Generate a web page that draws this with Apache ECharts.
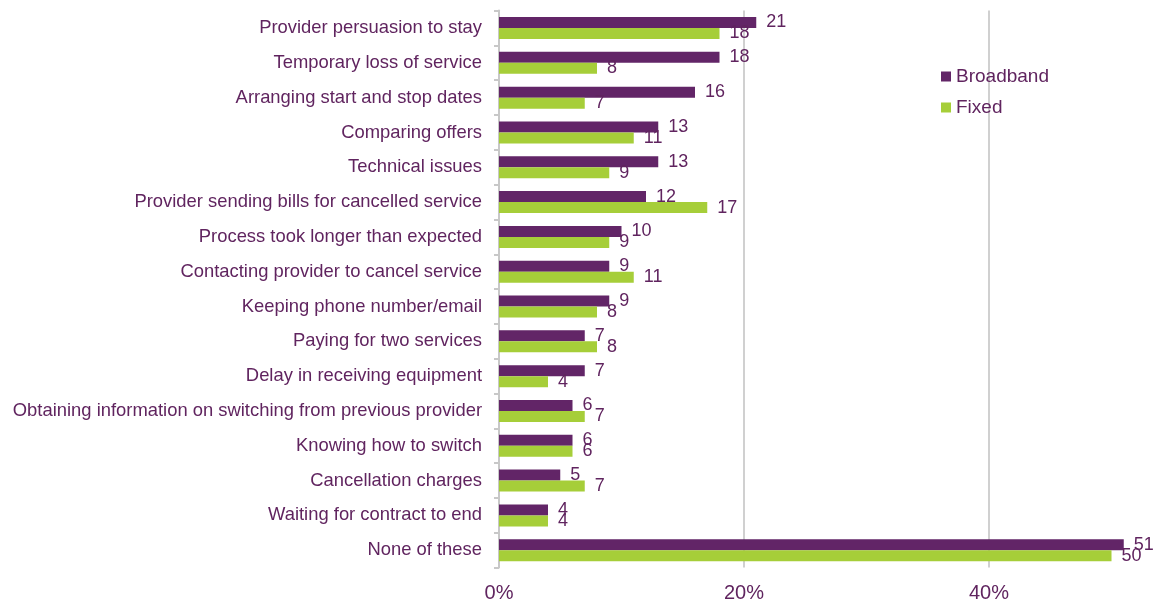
<!DOCTYPE html>
<html>
<head>
<meta charset="utf-8">
<script src="https://cdn.jsdelivr.net/npm/echarts@6/dist/echarts.min.js"></script>
<style>html,body{margin:0;padding:0;background:#fff;}#c{width:1158px;height:605px;}</style>
</head>
<body>
<div id="c"></div>
<script>
const categories = [
  "Provider persuasion to stay",
  "Temporary loss of service",
  "Arranging start and stop dates",
  "Comparing offers",
  "Technical issues",
  "Provider sending bills for cancelled service",
  "Process took longer than expected",
  "Contacting provider to cancel service",
  "Keeping phone number/email",
  "Paying for two services",
  "Delay in receiving equipment",
  "Obtaining information on switching from previous provider",
  "Knowing how to switch",
  "Cancellation charges",
  "Waiting for contract to end",
  "None of these"
];
const broadband = [21, 18, 16, 13, 13, 12, 10, 9, 9, 7, 7, 6, 6, 5, 4, 51];
const fixed = [18, 8, 7, 11, 9, 17, 9, 11, 8, 8, 4, 7, 6, 7, 4, 50];
const seriesNames = ["Broadband", "Fixed"];

const purple = '#622567';
const green = '#A6CE39';
const textColor = '#60245F';
const font = 'Liberation Sans, Arial, sans-serif';

const chart = echarts.init(document.getElementById('c'));
chart.setOption({
  animation: false,
  backgroundColor: '#fff',
  textStyle: { fontFamily: font },
  legend: {
    orient: 'vertical',
    left: 941,
    top: 67,
    padding: 0,
    itemWidth: 10,
    itemHeight: 10,
    itemGap: 12,
    icon: 'rect',
    textStyle: { color: textColor, fontSize: 19, fontFamily: font },
    data: seriesNames
  },
  grid: { left: 499, top: 10.6, width: 735, height: 557, containLabel: false, outerBoundsMode: 'none' },
  xAxis: {
    type: 'value',
    min: 0,
    max: 60,
    interval: 20,
    axisLine: { show: false },
    axisTick: { show: false },
    splitLine: { show: true, lineStyle: { color: '#d0d0d0', width: 2 } },
    axisLabel: { formatter: '{value}%', color: textColor, fontSize: 20, margin: 16, fontFamily: font }
  },
  yAxis: {
    type: 'category',
    inverse: true,
    data: categories,
    axisLine: { show: true, lineStyle: { color: '#c8c8c8', width: 2 } },
    axisTick: { show: true, length: 5, lineStyle: { color: '#c8c8c8', width: 2 } },
    axisLabel: { color: textColor, fontSize: 18.4, margin: 17, padding: [4, 0, 0, 0], fontFamily: font }
  },
  series: [
    {
      name: seriesNames[0], type: 'bar', data: broadband, barWidth: 11, barGap: '0%',
      itemStyle: { color: purple },
      label: { show: true, position: 'right', distance: 10, color: textColor, fontSize: 18, fontFamily: font }
    },
    {
      name: seriesNames[1], type: 'bar', data: fixed, barWidth: 11, barGap: '0%',
      itemStyle: { color: green },
      label: { show: true, position: 'right', distance: 10, color: textColor, fontSize: 18, fontFamily: font }
    }
  ]
});
</script>
</body>
</html>
